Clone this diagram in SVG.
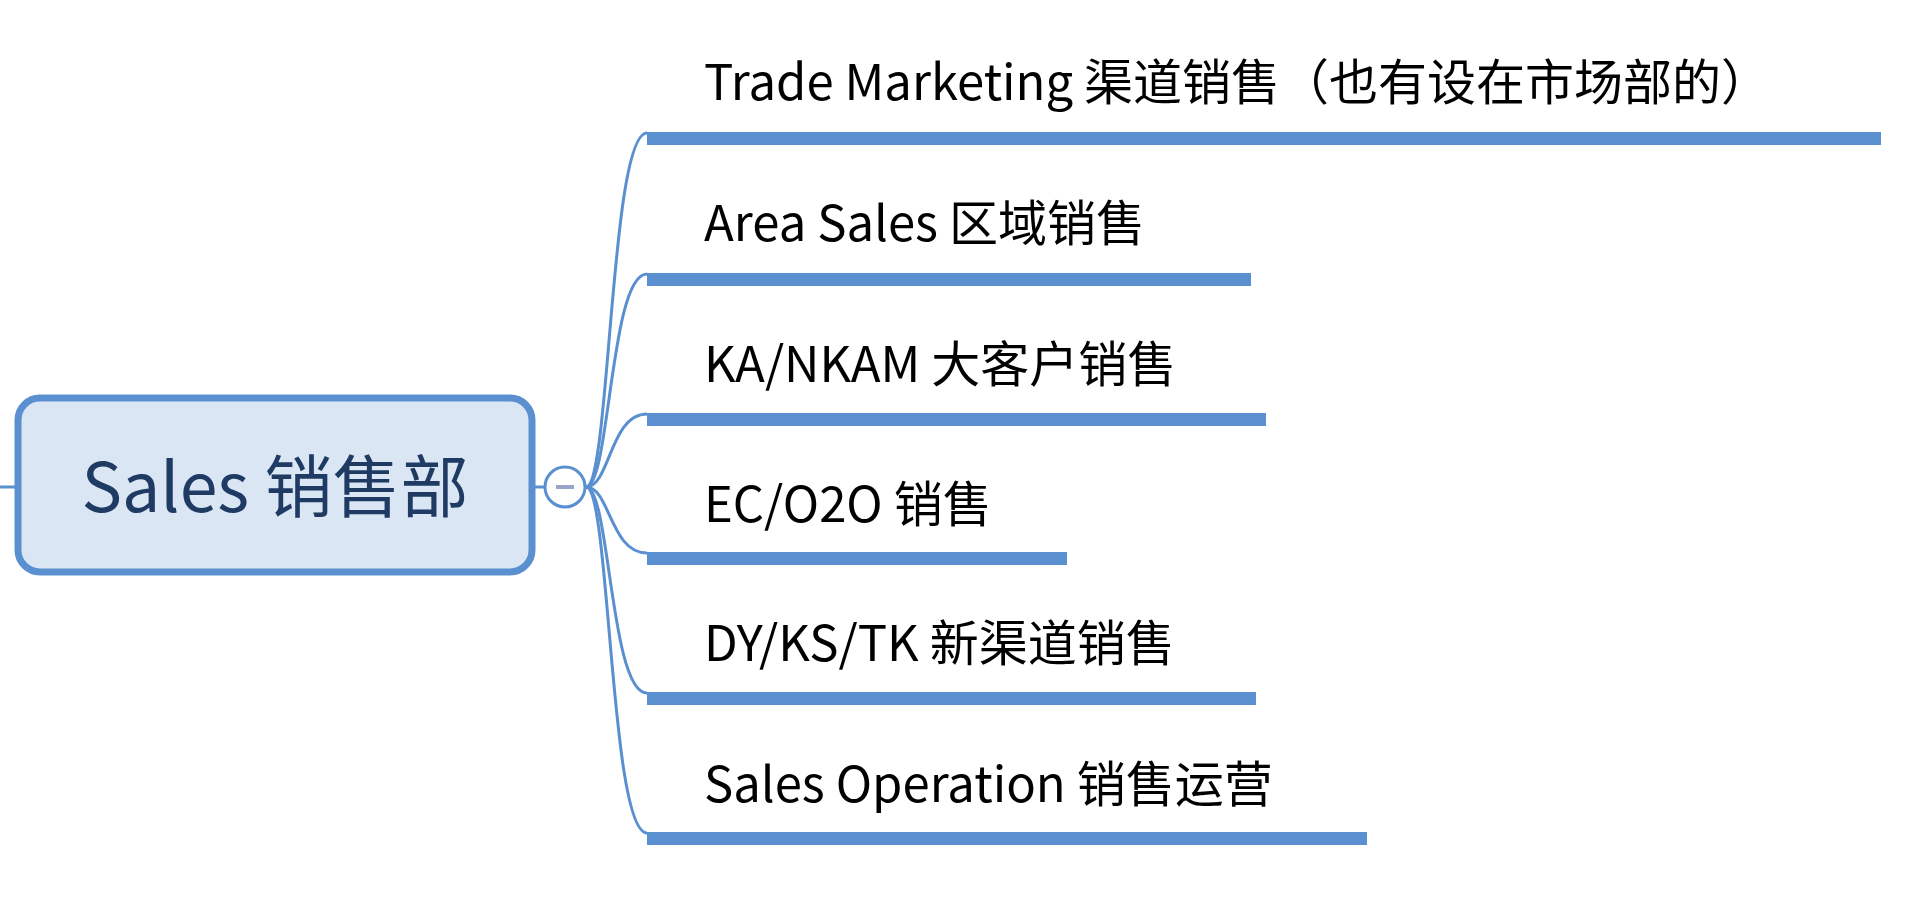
<svg xmlns="http://www.w3.org/2000/svg" width="1920" height="898" viewBox="0 0 1920 898">
<style>
.c{fill:none;stroke:#5a8fd0;stroke-width:3}
.bar{fill:#5a8fd0}
.t{font-family:"Noto Sans CJK SC","Noto Sans",sans-serif;font-size:49px;fill:#000}
</style>
<rect width="1920" height="898" fill="#fff"/>
<g id="connectors">
<line class="c" x1="0" y1="487" x2="15" y2="487"/>
<line class="c" x1="535" y1="487" x2="544" y2="487"/>
<path class="c" d="M586,487 C610,487 610,133 647,133"/>
<path class="c" d="M586,487 C610,487 610,274 647,274"/>
<path class="c" d="M586,487 C610,487 610,414 647,414"/>
<path class="c" d="M586,487 C610,487 610,553 647,553"/>
<path class="c" d="M586,487 C610,487 610,693 647,693"/>
<path class="c" d="M586,487 C610,487 610,833 647,833"/>
</g>
<g id="root">
<rect x="18" y="398" width="514" height="174" rx="22" fill="#dbe6f4" stroke="#5a8fd0" stroke-width="7"/>
<text x="275" y="512" text-anchor="middle" font-family="'Noto Sans CJK SC','Noto Sans',sans-serif" font-size="68" fill="#1f3b63">Sales 销售部</text>
</g>
<g id="collapse">
<circle cx="565" cy="487" r="20" fill="#fff" stroke="#5a8fd0" stroke-width="3"/>
<line x1="556" y1="487" x2="574" y2="487" stroke="#9aa3c8" stroke-width="4"/>
</g>
<g id="n1"><text class="t" x="704" y="100">Trade Marketing 渠道销售（也有设在市场部的）</text><rect class="bar" x="647" y="132" width="1234" height="13"/></g>
<g id="n2"><text class="t" x="704" y="241">Area Sales  区域销售</text><rect class="bar" x="647" y="273" width="604" height="13"/></g>
<g id="n3"><text class="t" x="704" y="382">KA/NKAM 大客户销售</text><rect class="bar" x="647" y="413" width="619" height="13"/></g>
<g id="n4"><text class="t" x="704" y="522">EC/O2O 销售</text><rect class="bar" x="647" y="552" width="420" height="13"/></g>
<g id="n5"><text class="t" x="704" y="661">DY/KS/TK 新渠道销售</text><rect class="bar" x="647" y="692" width="609" height="13"/></g>
<g id="n6"><text class="t" x="704" y="802">Sales Operation 销售运营</text><rect class="bar" x="647" y="832" width="720" height="13"/></g>
</svg>
